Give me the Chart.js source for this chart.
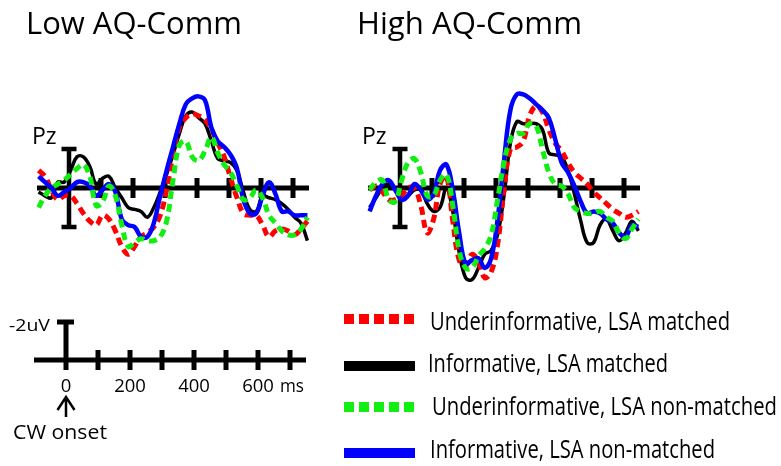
<!DOCTYPE html>
<html>
<head>
<meta charset="utf-8">
<script src="https://cdn.jsdelivr.net/npm/chart.js@4.4.0/dist/chart.umd.min.js"></script>
<style>
  html, body { margin: 0; padding: 0; background: #fff; }
  body { position: relative; width: 781px; height: 466px; overflow: hidden; font-family: "Open Sans", sans-serif; color: #000; }
  canvas { position: absolute; }
  .t { position: absolute; line-height: 1; white-space: nowrap; transform-origin: 0 0; }
  #legend { position: absolute; left: 0; top: 0; }
</style>
</head>
<body>
<canvas id="low" width="288" height="234" style="left:29px;top:71px"></canvas>
<canvas id="high" width="288" height="234" style="left:360px;top:71px"></canvas>
<canvas id="bar" width="288" height="120" style="left:26px;top:300px"></canvas>
<svg id="legend" width="781" height="466"></svg>
<script>
// time points (ms) the waveforms were read at
const times = [-95, -75, -55, -35, -15, 5, 25, 45, 65, 85, 105, 125, 145, 165, 185, 205, 225, 245, 265, 285,
  305, 325, 345, 365, 385, 405, 425, 445, 465, 485, 505, 525, 545, 565, 585, 605, 625, 645, 665, 685, 705, 725, 745];

// Low AQ-Comm, Pz (uV, negative plotted up)
const lowUnderMatched = [-0.9, -0.6, 0.1, 0.6, 0.4, 0.4, 0.8, 1.3, 1.7, 1.9, 1.4, 1.6, 2.2, 3.0, 3.4, 3.0, 2.5, 2.3, 2.0, 1.4,
  0.1, -1.7, -3.1, -3.6, -3.8, -3.7, -3.5, -3.0, -2.3, -1.6, -0.5, 0.5, 1.3, 1.4, 1.4, 1.9, 2.5, 2.2, 2.1, 2.2, 2.4, 2.1, 1.7];
const lowInfMatched = [0.2, 0.4, 0.5, -0.3, -0.3, -0.9, -1.6, -1.6, -1.1, -0.2, -0.5, -0.6, 0.0, 0.5, 1.0, 1.1, 1.2, 1.5, 1.0, 0.2,
  -0.7, -1.7, -2.8, -3.7, -3.9, -3.6, -3.3, -2.4, -1.5, -1.4, -1.3, -0.9, 0.2, 1.1, 1.2, 0.4, 0.5, 0.6, 0.8, 1.1, 1.5, 1.8, 2.7];
const lowUnderNon = [1.0, 0.4, 0.0, -0.2, -0.4, -0.7, -1.0, -1.2, -0.6, 0.9, 0.7, -0.1, 0.4, 1.9, 3.0, 2.8, 2.6, 2.7, 2.7, 2.5,
  1.7, -0.4, -2.2, -2.4, -1.6, -1.4, -1.9, -2.6, -1.8, -1.2, -0.8, -0.1, 0.6, 0.5, 0.1, 0.5, 1.4, 1.8, 2.2, 2.4, 2.4, 2.1, 1.5];
const lowInfNon = [-0.6, -0.3, 0.0, 0.4, 0.2, 0.0, -0.3, -0.3, -0.1, 0.4, 0.1, -0.2, 0.2, 1.6, 1.9, 2.0, 2.5, 2.5, 1.8, 0.4,
  -0.9, -2.1, -3.3, -4.3, -4.6, -4.7, -4.5, -3.1, -2.4, -2.1, -1.7, -1.0, 0.6, 1.3, 1.3, 0.4, -0.3, 0.3, 1.2, 1.2, 1.4, 1.4, 1.4];

// High AQ-Comm, Pz
const highUnderMatched = [0.1, -0.1, 0.2, 0.6, 0.6, 0.4, 0.0, 0.0, 0.9, 2.3, 1.6, -0.2, -0.6, 1.7, 3.7, 4.0, 3.4, 3.8, 4.6, 4.3,
  2.9, 0.1, -2.0, -2.1, -2.4, -3.7, -4.2, -3.9, -3.0, -2.3, -1.9, -1.3, -0.8, -0.5, -0.2, 0.2, 0.5, 0.8, 1.1, 1.3, 1.5, 1.4, 1.2];
const highInfMatched = [1.0, 0.5, 0.0, -0.2, 0.1, 0.5, 0.4, 0.1, 0.1, 0.8, 1.2, 1.0, 0.0, 1.2, 3.3, 4.6, 4.7, 4.1, 3.4, 3.2,
  2.4, 0.4, -2.3, -3.4, -3.3, -3.3, -3.3, -3.0, -1.8, -1.7, -1.6, -0.9, 0.3, 1.7, 2.8, 2.8, 1.9, 1.6, 2.2, 2.7, 2.3, 1.7, 2.2];
const highUnderNon = [0.1, -0.3, -0.4, 0.6, 0.7, -0.4, -1.3, -1.5, -0.8, 0.4, 0.4, -0.4, -0.7, 0.9, 3.2, 4.1, 4.1, 3.5, 3.1, 2.4,
  0.6, -1.3, -2.5, -2.8, -2.8, -3.3, -3.2, -2.0, -0.8, -0.2, -0.1, 0.3, 1.0, 1.2, 1.3, 1.3, 1.2, 1.5, 1.7, 2.3, 2.6, 2.1, 1.6];
const highInfNon = [1.2, 0.4, -0.2, -0.4, 0.1, 0.6, 0.4, -0.2, 0.1, 0.6, 0.3, -0.9, -1.2, 0.1, 2.3, 3.9, 3.7, 3.6, 4.1, 3.6,
  1.6, -1.4, -4.0, -4.8, -4.8, -4.6, -4.3, -4.0, -3.6, -2.5, -1.3, -0.8, -0.1, 0.7, 1.3, 1.2, 1.3, 1.6, 1.8, 2.3, 2.5, 1.9, 2.0];

const tickValues = [100, 200, 300, 400, 500, 600, 700];
const scaleLabels = [0, 200, 400, 600];
const legendLabels = ["Underinformative, LSA matched", "Informative, LSA matched",
  "Underinformative, LSA non-matched", "Informative, LSA non-matched"];

const styles = [
  { color: "#ff0000", width: 5, dash: [8, 5], order: 3 },
  { color: "#000000", width: 3.5, dash: [], order: 4 },
  { color: "#11ee11", width: 5, dash: [8, 5], order: 1 },
  { color: "#0000ff", width: 4.5, dash: [], order: 2 },
];

// axis line, tick crosses and the scale bar, drawn from the chart's own scales
const axisPlugin = {
  id: "erpAxis",
  beforeDatasetsDraw(chart, args, opts) {
    const { ctx } = chart;
    const x = chart.scales.x, y = chart.scales.y;
    const y0 = y.getPixelForValue(0);
    const x0 = x.getPixelForValue(0);
    ctx.save();
    ctx.strokeStyle = "#000";
    ctx.lineWidth = 5;
    ctx.beginPath();
    ctx.moveTo(x.getPixelForValue(-100), y0);
    ctx.lineTo(x.getPixelForValue(750), y0);
    ctx.stroke();
    tickValues.forEach(t => {
      const px = x.getPixelForValue(t);
      ctx.beginPath();
      ctx.moveTo(px, y0 - 10);
      ctx.lineTo(px, y0 + 10);
      ctx.stroke();
    });
    if (opts.mode === "panel") {
      const top = y.getPixelForValue(-2), bot = y.getPixelForValue(2);
      ctx.lineWidth = 4.5;
      ctx.beginPath();
      ctx.moveTo(x0, top); ctx.lineTo(x0, bot);
      ctx.moveTo(x0 - 7.5, top); ctx.lineTo(x0 + 7.5, top);
      ctx.moveTo(x0 - 7.5, bot); ctx.lineTo(x0 + 7.5, bot);
      ctx.stroke();
    } else {
      const top = y.getPixelForValue(-2);
      ctx.beginPath();
      ctx.moveTo(x0, top); ctx.lineTo(x0, y0 + 10);
      ctx.moveTo(x0 - 9, top + 2); ctx.lineTo(x0 + 8, top + 2);
      ctx.stroke();
      // onset arrow
      ctx.lineWidth = 2.5;
      ctx.beginPath();
      ctx.moveTo(x0 - 8.5, y0 + 50); ctx.lineTo(x0, y0 + 37); ctx.lineTo(x0 + 8.5, y0 + 50);
      ctx.moveTo(x0, y0 + 38); ctx.lineTo(x0, y0 + 57);
      ctx.stroke();
    }
    ctx.restore();
  }
};

function panel(id, series) {
  return new Chart(document.getElementById(id), {
    type: "line",
    data: {
      datasets: series.map((vals, i) => ({
        label: legendLabels[i],
        data: times.map((t, k) => ({ x: t, y: vals[k] })),
        borderColor: styles[i].color,
        borderWidth: styles[i].width,
        borderDash: styles[i].dash,
        order: styles[i].order,
        pointRadius: 0,
        tension: 0.4,
        fill: false,
      })),
    },
    options: {
      responsive: false,
      animation: false,
      events: [],
      layout: { padding: 0 },
      plugins: { legend: { display: false }, tooltip: { enabled: false }, erpAxis: { mode: "panel" } },
      scales: {
        x: { type: "linear", min: -125, max: 775, display: false },
        y: { min: -6, max: 6, reverse: true, display: false },
      },
    },
    plugins: [axisPlugin],
  });
}

panel("low", [lowUnderMatched, lowInfMatched, lowUnderNon, lowInfNon]);
panel("high", [highUnderMatched, highInfMatched, highUnderNon, highInfNon]);

const bar = new Chart(document.getElementById("bar"), {
  type: "line",
  data: { datasets: [] },
  options: {
    responsive: false,
    animation: false,
    events: [],
    layout: { padding: 0 },
    plugins: { legend: { display: false }, tooltip: { enabled: false }, erpAxis: { mode: "scale" } },
    scales: {
      x: { type: "linear", min: -125, max: 775, display: false },
      y: { min: -3, max: 3, reverse: true, display: false },
    },
  },
  plugins: [axisPlugin],
});

// text helper: x = left (or centre), base = baseline, width = target width
function label(txt, x, base, size, width, center) {
  const d = document.createElement("div");
  d.className = "t";
  d.textContent = txt;
  d.style.fontSize = size + "px";
  d.style.top = (base - 0.888 * size) + "px";
  document.body.appendChild(d);
  const w = d.getBoundingClientRect().width;
  const sx = width ? width / w : 1;
  d.style.left = (center ? x - w * sx / 2 : x) + "px";
  if (sx !== 1) d.style.transform = "scaleX(" + sx + ")";
}

label("Low AQ-Comm", 26, 35, 31, 216);
label("High AQ-Comm", 357, 35, 31, 225);
label("Pz", 32, 144, 23);
label("Pz", 362, 144, 23);

label("-2uV", 9, 331, 17, 41);
scaleLabels.forEach(v => label(String(v), 26 + bar.scales.x.getPixelForValue(v), 392, 18.5, 0, true));
label("ms", 280, 392, 18.5, 24);
label("CW onset", 13, 440, 20, 94);

// legend
const svg = document.getElementById("legend");
const rowLine = [319, 366, 407, 453];
const rowBase = [330, 372, 415, 458];
const rowX = [430, 428, 432, 430];
const rowW = [300, 240, 345, 285];
legendLabels.forEach((txt, i) => {
  const ln = document.createElementNS("http://www.w3.org/2000/svg", "line");
  ln.setAttribute("x1", 344); ln.setAttribute("x2", 415);
  ln.setAttribute("y1", rowLine[i]); ln.setAttribute("y2", rowLine[i]);
  ln.setAttribute("stroke", styles[i].color);
  ln.setAttribute("stroke-width", 10);
  if (styles[i].dash.length) ln.setAttribute("stroke-dasharray", "10 5");
  svg.appendChild(ln);
  label(txt, rowX[i], rowBase[i], 26, rowW[i]);
});
</script>
</body>
</html>
